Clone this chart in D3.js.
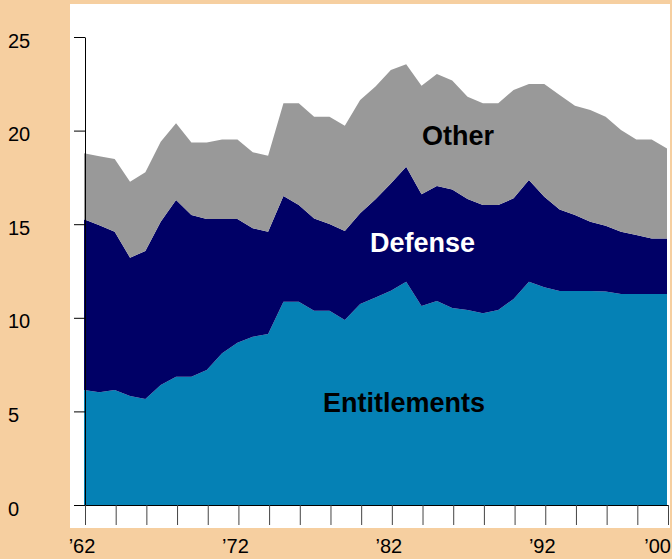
<!DOCTYPE html>
<html><head><meta charset="utf-8">
<script src="https://cdn.jsdelivr.net/npm/d3@7/dist/d3.min.js"></script>
<style>html,body{margin:0;padding:0;background:#F6CFA0;} svg{display:block}</style>
</head><body><svg id="c" width="672" height="559"></svg>
<script>
const years = [1962,1963,1964,1965,1966,1967,1968,1969,1970,1971,
  1972,1973,1974,1975,1976,1977,1978,1979,1980,1981,
  1982,1983,1984,1985,1986,1987,1988,1989,1990,1991,
  1992,1993,1994,1995,1996,1997,1998,1999,2000];
const entitlements = [6.14,6.02,6.14,5.82,5.66,6.41,6.85,6.85,7.21,8.10,
  8.67,8.99,9.13,10.86,10.86,10.38,10.38,9.88,10.74,11.09,
  11.45,11.93,10.63,10.90,10.53,10.42,10.24,10.42,11.00,11.93,
  11.63,11.43,11.43,11.43,11.40,11.27,11.27,11.27,11.27];
const defense = [9.12,8.92,8.46,7.39,7.91,8.72,9.44,8.64,8.07,7.18,
  6.61,5.79,5.47,5.65,5.17,4.93,4.63,4.76,4.84,5.24,
  5.73,6.14,5.97,6.14,6.33,5.93,5.79,5.61,5.38,5.43,
  4.84,4.36,4.06,3.70,3.52,3.33,3.15,2.97,2.97];
const other = [3.53,3.69,3.88,4.06,4.20,4.28,4.10,3.88,4.09,4.25,
  4.25,4.06,4.06,4.95,5.43,5.43,5.73,5.62,6.05,6.02,
  6.06,5.47,5.80,5.98,5.81,5.46,5.43,5.43,5.79,5.13,
  6.02,6.11,5.84,5.97,5.82,5.43,5.11,5.29,4.81];
const seriesNames = ["Entitlements","Defense","Other"];
const yTicks = [0,5,10,15,20,25];
const xTicks = [1962,1964,1966,1968,1970,1972,1974,1976,1978,1980,1982,1984,1986,1988,1990,1992,1994,1996,1998,2000];
const xLabelYears = [1962,1972,1982,1992,2000];
const xLabels = ["\u201962","\u201972","\u201982","\u201992","\u201900"];

const colors = {Entitlements:"#0581B5", Defense:"#000066", Other:"#999999"};
const labelColors = {Entitlements:"#000", Defense:"#fff", Other:"#000"};
const labelPos = {Entitlements:[404,411.7], Defense:[422.5,251.7], Other:[458,145]};

const rows = years.map((yr,i)=>({year:yr, Entitlements:entitlements[i], Defense:defense[i], Other:other[i]}));
const stack = d3.stack().keys(seriesNames)(rows);

const svg = d3.select("#c");
svg.append("rect").attr("x",0).attr("y",0).attr("width",672).attr("height",559).attr("fill","#F6CFA0");
svg.append("rect").attr("x",70).attr("y",4).attr("width",600).attr("height",524).attr("fill","#fff");

const x = d3.scaleLinear().domain([1962,2000]).range([84,667]);
const y = d3.scaleLinear().domain([0,25]).range([505,37]);

const area = d3.area().x(d=>x(d.data.year)).y0(d=>y(d[0])).y1(d=>y(d[1]));
svg.append("g").selectAll("path").data(stack).join("path")
  .attr("d",area).attr("fill",d=>colors[d.key]);

// y axis
const ya = svg.append("g").attr("transform","translate(85,0)")
  .call(d3.axisLeft(y).tickValues(yTicks).tickSize(11).tickSizeOuter(0).tickFormat(""));
ya.selectAll("path,line").attr("stroke","#000");
svg.append("g").selectAll("text").data(yTicks).join("text")
  .attr("x",8).attr("y",d=>y(d)+10.5)
  .attr("font-family","'Liberation Sans', Arial, Helvetica, sans-serif")
  .attr("font-size",20).attr("fill","#000").text(d=>d);

// x axis
const xa = svg.append("g").attr("transform","translate(1,505)")
  .call(d3.axisBottom(x).tickValues(xTicks).tickSize(20).tickSizeOuter(0).tickFormat(""));
xa.selectAll("line").attr("stroke","#444");
xa.select("path").attr("stroke","#000");
svg.append("g").selectAll("text").data(xLabelYears).join("text")
  .attr("x",(d,i)=> i===xLabelYears.length-1 ? 671 : x(d)-2)
  .attr("y",552.5)
  .attr("text-anchor",(d,i)=> i===xLabelYears.length-1 ? "end" : "middle")
  .attr("font-family","'Liberation Sans', Arial, Helvetica, sans-serif")
  .attr("font-size",20).attr("fill","#000").text((d,i)=>xLabels[i]);

// series labels
svg.append("g").selectAll("text").data(seriesNames).join("text")
  .attr("x",d=>labelPos[d][0]).attr("y",d=>labelPos[d][1])
  .attr("text-anchor","middle")
  .attr("font-family","'Liberation Sans', Arial, Helvetica, sans-serif")
  .attr("font-weight","bold").attr("font-size",27)
  .attr("fill",d=>labelColors[d]).text(d=>d);
</script></body></html>
